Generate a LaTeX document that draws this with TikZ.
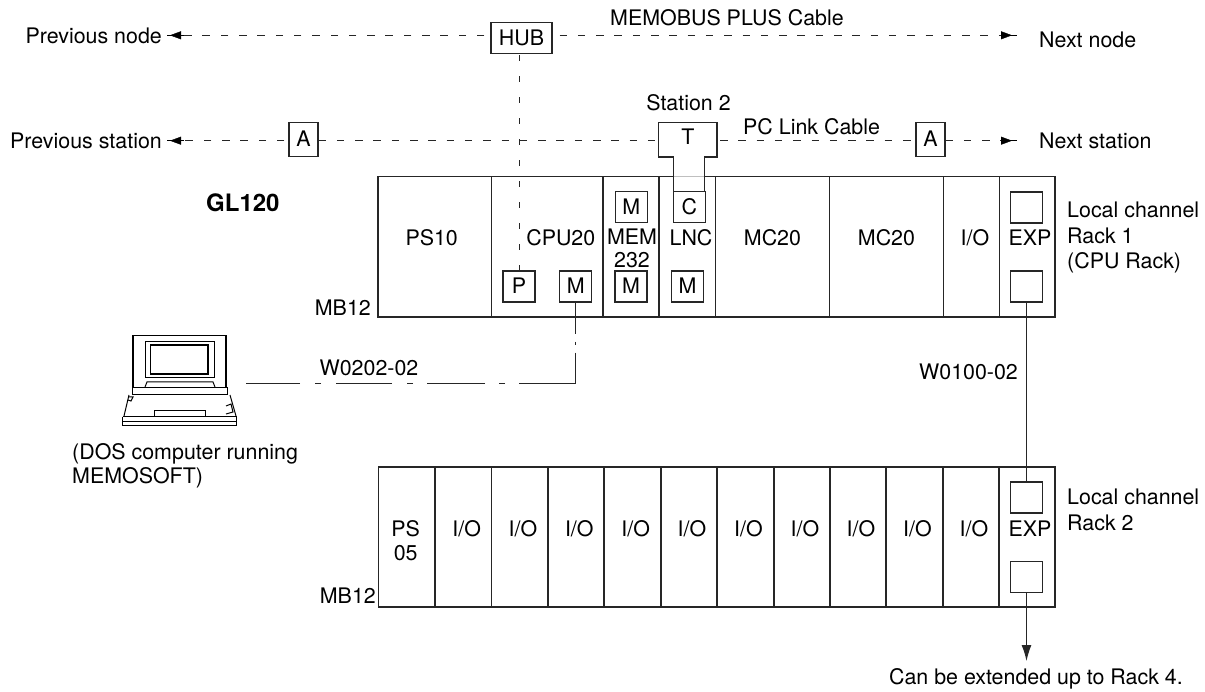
\documentclass[tikz,border=0pt]{standalone}
\usepackage{fontspec}
\setmainfont{TeX Gyre Heros}
\usetikzlibrary{arrows.meta,calc}
\tikzset{
  ln/.style={line width=1.1pt,black!85},
  box/.style={draw,line width=1.1pt,black!85,inner sep=0pt,text=black,anchor=center,rectangle},
  txt/.style={inner sep=0pt,text height=15pt,text depth=0pt,text=black,font=\fsz},
  mtxt/.style={inner sep=0pt,text=black,font=\fszl,align=left,anchor=north west},
  sbox/.style={box,minimum width=32pt,minimum height=31pt,font=\fsz,text height=15pt,text depth=0pt},
  dsh/.style={line width=1pt,black!85,dash pattern=on 7.5pt off 10.8pt},
  vdsh/.style={line width=1pt,black!85,dash pattern=on 6pt off 15pt},
  tipl/.style={-{Triangle[length=11pt,width=8pt]},black},
}
\newcommand{\fsz}{\fontsize{21.4}{25}\selectfont}
\newcommand{\fszl}{\fontsize{21.4}{25.5}\selectfont}
\begin{document}
\begin{tikzpicture}[x=1pt,y=-1pt]
\useasboundingbox (0,0) rectangle (1205,692);
% Rack 1 slots
\foreach \a/\b in {378/491.5,491.5/603,603/659,659/715.6,715.6/829.6,829.6/943.6,943.6/999.4,999.4/1055}
  \draw[ln] (\a,176.7) rectangle (\b,317);
% Rack 2 slots
\foreach \a/\b in {378.5/435,435/491.6,491.6/548,548/604,604/661,661/717,717/774,774/830,830/886,886/943,943/999,999/1055}
  \draw[ln] (\a,467) rectangle (\b,607);
% top row
\node[box,minimum width=61pt,minimum height=31pt,font=\fsz,text height=15pt,text depth=0pt] (hub) at (521.5,38) {HUB};
\node[box,minimum width=29pt,minimum height=33.5pt,font=\fsz,text height=15pt,text depth=0pt] (a1) at (303.5,139.5) {A};
\node[box,minimum width=29pt,minimum height=33.5pt,font=\fsz,text height=15pt,text depth=0pt] (a2) at (930.5,139.5) {A};
\coordinate (pn) at (170,35.3);
\coordinate (nn) at (1012,35.3);
\coordinate (ps) at (170,140.7);
\coordinate (ns) at (1012,140.7);
\coordinate (tl) at (658.6,140.7);
\coordinate (tr) at (717,140.7);
\draw[dsh] (hub.west|-pn) ++(-6,0) -- (pn);
\draw[dsh] (hub.east|-nn) ++(7,0) -- (nn);
\draw[dsh] (a1.west|-ps) ++(-4,0) -- (ps);
\draw[dsh] (a1.east|-ps) -- (tl);
\draw[dsh] (tr) ++(3,0) -- (a2.west|-ns);
\draw[dsh] (a2.east|-ns) -- (ns);
\foreach \c in {pn,ps} {
  \draw[tipl] ($(\c)+(14,0)$) -- (\c);
  \draw[line width=1pt,black] ($(\c)+(-3,0)$) -- ($(\c)+(2,0)$);
}
\foreach \c in {nn,ns} {
  \draw[tipl] ($(\c)+(-11,0)$) -- (\c);
  \draw[line width=1pt,black] ($(\c)+(-2,0)$) -- ($(\c)+(5,0)$);
}
% modules
\node[sbox] (p) at (519,286.5) {P};
\node[sbox] (mcpu) at (575.7,286.5) {M};
\node[sbox] (mmem1) at (631.3,207.2) {M};
\node[sbox] (mmem2) at (631,286.5) {M};
\node[sbox] (c) at (689.3,207.2) {C};
\node[sbox] (mlnc) at (687.5,286.5) {M};
\node[sbox] (e1) at (1026.5,207.5) {};
\node[sbox] (e2) at (1026.5,286.5) {};
\node[sbox] (e3) at (1026.5,497.5) {};
\node[sbox] (e4) at (1026.5,577) {};
% T adapter
\node[inner sep=0pt,font=\fsz,text height=15pt,text depth=0pt,text=black] (t) at (688,137) {T};
\fill[white] (674,176) rectangle (704,178);
\draw[black!25,line width=1pt] (674,176.7) -- (704,176.7);
\draw[ln,line join=miter] (673.3,191.7) -- (673.3,157) -- (658.6,157) -- (658.6,122.7) -- (717,122.7) -- (717,157) -- (704.6,157) -- (704.6,191.7);
% vertical dashed
\draw[vdsh] (hub.south-|p) ++(0,1) -- (p.north);
% texts
\node[txt,anchor=east] (tpn) at (162,36) {Previous node};
\node[txt,anchor=east] (tps) at (162,141) {Previous station};
\node[txt,anchor=west] (tmb) at (610,18) {MEMOBUS PLUS Cable};
\node[txt,anchor=west] (tnn) at (1039,40) {Next node};
\node[txt,anchor=center] (tst) at (688.5,102.7) {Station 2};
\node[txt,anchor=west] (tpc) at (743,126.7) {PC Link Cable};
\node[txt,anchor=west] (tns) at (1039,140.7) {Next station};
\node[inner sep=0pt,text height=17pt,text depth=0pt,anchor=west,font=\fontsize{24}{28}\selectfont\bfseries] (tgl) at (206,203.5) {GL120};
\node[txt] (tps10) at (431.7,238) {PS10};
\node[txt] (tcpu) at (560.8,238) {CPU20};
\node[txt] (tmem) at (632,237) {MEM};
\node[txt] (t232) at (632,260) {232};
\node[txt] (tlnc) at (691,238) {LNC};
\node[txt] (tmc1) at (772.5,238) {MC20};
\node[txt] (tmc2) at (886.5,238) {MC20};
\node[txt] (tio) at (975,238) {I/O};
\node[txt] (texp1) at (1030,238) {EXP};
\node[txt,anchor=east] (tmb1) at (371,308) {MB12};
\node[mtxt] (tl1) at (1067,202) {Local channel\\Rack 1\\(CPU Rack)};
\node[mtxt] (tl2) at (1067,489) {Local channel\\Rack 2};
\node[txt] (tw2) at (369,368) {W0202-02};
\node[txt] (tw1) at (968.5,372) {W0100-02};
\node[mtxt,font=\fontsize{21.4}{23.5}\selectfont] (tdos) at (72,443.5) {(DOS computer running\\MEMOSOFT)};
\node[txt] (tps05a) at (405.7,529) {PS};
\node[txt] (tps05b) at (405.7,553) {05};
\foreach \x [count=\i] in {466.7,523,579.3,635.7,692,748.5,805,861,917.5,974} \node[txt] (tio\i) at (\x,529) {I/O};
\node[txt] (texp2) at (1030,529) {EXP};
\node[txt,anchor=east] (tmb2) at (376,595.5) {MB12};
\node[txt,anchor=east] (tcan) at (1183,676.5) {Can be extended up to Rack 4.};
% cables
\coordinate (pc) at (246,383.5);
\draw[ln,dash pattern=on 31pt off 8pt on 3pt off 8pt on 87.5pt off 14pt on 6pt off 14pt on 58pt off 14pt on 6pt off 15pt on 56pt off 15pt on 6pt off 15pt on 56pt off 2pt] (mcpu.south) |- (pc);
\draw[ln] (e2.south) -- (e3.north);
\coordinate (cont) at (1026.5,661);
\draw[ln,-{Latex[length=16pt,width=10pt]}] (e4.south) -- (cont);
% laptop
\draw[line width=1.6pt,black] (133,387) -- (133,335.5) -- (226,335.5) -- (226,387);
\draw[line width=1pt] (145.7,342) rectangle (214,378);
\draw[line width=1.2pt] (150.7,345) rectangle (208,374);
\draw[line width=1pt] (145,387) -- (147,382) -- (213,382) -- (215,387);
\draw[line width=1pt] (132,388) rectangle (227,395);
\draw[line width=1pt] (129,395) -- (124,416);
\draw[line width=1pt] (230,395) -- (236,416);
\draw[line width=1pt] (129,397) -- (133,397) -- (131,401) -- (128,400);
\draw[line width=1pt] (226,406) -- (231,404) -- (233,412) -- (226,414);
\draw[line width=1pt] (154,416.5) rectangle (205,410.5);
\draw[line width=1pt] (122.5,417) -- (236.5,417);
\draw[line width=1pt] (122.5,417) -- (122.5,426) -- (236.5,426) -- (236.5,417);
\draw[line width=.8pt] (122.5,421) -- (236.5,421);
\end{tikzpicture}
\end{document}
